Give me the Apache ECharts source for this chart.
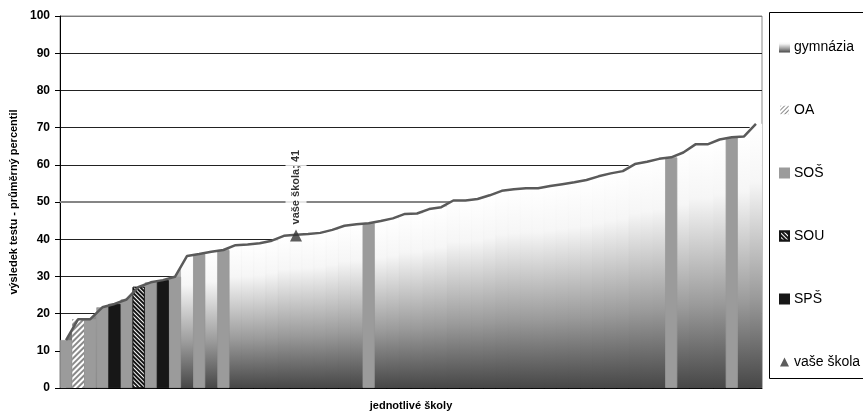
<!DOCTYPE html>
<html><head><meta charset="utf-8">
<script src="https://cdn.jsdelivr.net/npm/echarts@6/dist/echarts.min.js"></script>
<style>html,body{margin:0;padding:0;background:#fff}#c{width:863px;height:417px}</style>
</head><body><div id="c"></div>
<script>
// one entry per school, sorted ascending
const values = [12.9,18.5,18.5,21.7,22.6,23.8,27.2,28.4,29.0,29.9,
  35.5,36.0,36.6,37.1,38.4,38.6,38.9,39.6,40.9,41.2,
  41.4,41.7,42.5,43.6,44.0,44.3,44.9,45.6,46.8,46.9,
  48.1,48.6,50.4,50.4,50.8,51.8,53.0,53.4,53.7,53.7,
  54.3,54.8,55.3,55.9,56.9,57.7,58.3,60.2,60.8,61.6,
  62.0,63.3,65.5,65.5,66.8,67.4,67.6,71.0];
const types = ['SOŠ','OA','SOŠ','SOŠ','SPŠ','SOŠ','SOU','SOŠ','SPŠ','SOŠ',
  'gymnázia','SOŠ','gymnázia','SOŠ','gymnázia','gymnázia','gymnázia','gymnázia','gymnázia','gymnázia',
  'gymnázia','gymnázia','gymnázia','gymnázia','gymnázia','SOŠ','gymnázia','gymnázia','gymnázia','gymnázia',
  'gymnázia','gymnázia','gymnázia','gymnázia','gymnázia','gymnázia','gymnázia','gymnázia','gymnázia','gymnázia',
  'gymnázia','gymnázia','gymnázia','gymnázia','gymnázia','gymnázia','gymnázia','gymnázia','gymnázia','gymnázia',
  'SOŠ','gymnázia','gymnázia','gymnázia','gymnázia','SOŠ','gymnázia','gymnázia'];
const categories = values.map((v, i) => String(i + 1));
const typeNames = ['gymnázia','OA','SOŠ','SOU','SPŠ'];
const yourIndex = 19;
const yourValue = 41;
const yourName = 'vaše škola';
const yTicks = [0,10,20,30,40,50,60,70,80,90,100];
const refLevel = 50;

const FONT = '"Liberation Sans", Arial, sans-serif';
const grad = {type:'linear', x:0, y:0, x2:0, y2:1, colorStops:[
  {offset:0, color:'#ffffff'}, {offset:0.22, color:'#f6f6f6'},
  {offset:0.66, color:'#9a9a9a'}, {offset:1, color:'#474747'}]};
const oaDecal = {symbol:'rect', symbolSize:1, dashArrayX:[1,0], dashArrayY:[1.4,1.4], rotation:-Math.PI/4, color:'#8a8a8a'};
const styles = {
  'gymnázia': {color: grad, borderColor: grad, borderWidth: 0.8},
  'OA': {color:'#ffffff', decal: oaDecal},
  'SOŠ': {color:'#9b9b9b', borderColor:'#9b9b9b', borderWidth: 0.8},
  'SOU': {color:'#151515', borderColor:'#151515', borderWidth: 0.8,
    decal:{symbol:'rect', symbolSize:1, dashArrayX:[1,0], dashArrayY:[1,1.6], rotation:Math.PI/4, color:'#ffffff'}},
  'SPŠ': {color:'#171717', borderColor:'#171717', borderWidth: 0.8}
};

const series = typeNames.map(n => ({
  name: n, type: 'bar', stack: 'all', barCategoryGap: 0, zlevel: 1, z: 2,
  itemStyle: styles[n],
  data: values.map((v, i) => types[i] === n ? v : '-')
}));
// backdrop under the bars so sub-pixel gaps show gradient, not white
series.push({
  type: 'line', data: values, symbol: 'none', zlevel: 1, z: 1, silent: true,
  lineStyle: {width: 0, opacity: 0}, areaStyle: {color: grad, opacity: 1}
});
series.push({
  type: 'line', data: values, symbol: 'none', zlevel: 1, z: 5, silent: true,
  lineStyle: {color:'#5a5a5a', width:2.5}
});
series.push({
  name: yourName, type: 'scatter', symbol: 'triangle', symbolSize: 12, zlevel: 1, z: 6,
  itemStyle: {color:'#333333'},
  data: values.map((v, i) => i === yourIndex ? yourValue : '-'),
  label: {show: true, position: 'top', distance: 3, rotate: 90, align: 'left', verticalAlign: 'middle',
    formatter: yourName + '; ' + yourValue, fontFamily: FONT, fontWeight: 'bold', fontSize: 11, color: '#000',
    backgroundColor: '#fff', padding: [5, 2, 5, 2]}
});

const splitColors = yTicks.map(t => t === refLevel ? 'rgba(0,0,0,0)' : (t === 100 ? '#7a7a7a' : '#222'));

const chart = echarts.init(document.getElementById('c'), null, {renderer: 'canvas'});
chart.setOption({
  animation: false,
  backgroundColor: '#fff',
  grid: {left: 60, right: 101, top: 16, bottom: 29, show: true, borderColor: '#8a8a8a', borderWidth: 1, backgroundColor: 'rgba(0,0,0,0)'},
  xAxis: {type: 'category', data: categories, boundaryGap: true, zlevel: 0, z: 0,
    name: 'jednotlivé školy', nameLocation: 'middle', nameGap: 12,
    nameTextStyle: {fontFamily: FONT, fontWeight: 'bold', fontSize: 11, color: '#000'},
    axisLine: {show: true, lineStyle: {color: '#000', width: 1}},
    axisTick: {show: false}, axisLabel: {show: false}, splitLine: {show: false}},
  yAxis: {type: 'value', min: 0, max: 100, interval: 10, zlevel: 0, z: 0,
    name: 'výsledek testu - průměrný percentil', nameLocation: 'middle', nameGap: 37,
    nameTextStyle: {fontFamily: FONT, fontWeight: 'bold', fontSize: 11, color: '#000'},
    axisLine: {show: true, lineStyle: {color: '#000', width: 1}},
    axisTick: {show: true, length: 5, lineStyle: {color: '#000'}},
    axisLabel: {margin: 10, fontFamily: FONT, fontWeight: 'bold', fontSize: 12, color: '#000'},
    splitLine: {show: true, lineStyle: {color: splitColors, width: 1}}},
  legend: {orient: 'vertical', left: 779, top: 40, padding: 0, itemWidth: 9, itemHeight: 9, itemGap: 49, itemTextGap: 2,
    textStyle: {fontFamily: FONT, fontSize: 14, color: '#000', lineHeight: 14},
    data: [
      {name: 'gymnázia', icon: 'rect'},
      {name: 'OA', icon: 'rect', itemStyle: {color: '#ffffff', borderColor: '#ffffff', borderWidth: 0.5,
        decal: {symbol:'rect', symbolSize:1, dashArrayX:[1,0], dashArrayY:[1,1.2], rotation:-Math.PI/4, color:'#8a8a8a'}}},
      {name: 'SOŠ', icon: 'rect'},
      {name: 'SOU', icon: 'rect'}, {name: 'SPŠ', icon: 'rect'}, {name: yourName, icon: 'triangle'}]},
  series: series
});

// gray reference gridline at 50, visible above the data line (positions from the chart's own scales)
const firstCross = values.findIndex(v => v >= refLevel);
const yPix = chart.convertToPixel({yAxisIndex: 0}, refLevel);
const xA = chart.convertToPixel({xAxisIndex: 0}, categories[firstCross - 1]);
const xB = chart.convertToPixel({xAxisIndex: 0}, categories[firstCross]);
const xEnd = xA + (xB - xA) * (refLevel - values[firstCross - 1]) / (values[firstCross] - values[firstCross - 1]);
const gridRect = chart.getModel().getComponent('grid').coordinateSystem.getRect();
chart.setOption({graphic: [
  {type: 'rect', silent: true, shape: {x: 769.5, y: 12.5, width: 120, height: 366},
    style: {fill: null, stroke: '#000', lineWidth: 1}},
  {type: 'line', silent: true, zlevel: 1, z: 3, shape: {x1: gridRect.x, y1: yPix, x2: xEnd, y2: yPix},
    style: {stroke: '#858585', lineWidth: 2}}
]});
</script></body></html>
